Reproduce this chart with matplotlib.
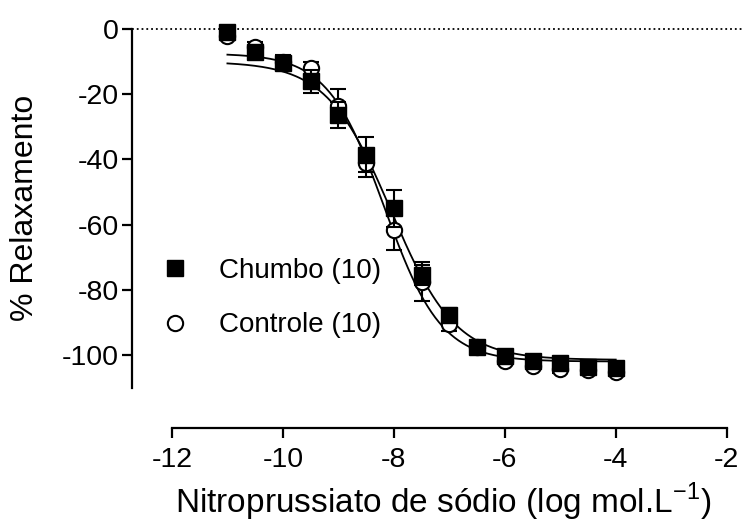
import numpy as np
import matplotlib
matplotlib.use('Agg')
import matplotlib.pyplot as plt

plt.rcParams['font.family'] = ['Liberation Sans', 'DejaVu Sans']
plt.rcParams['axes.unicode_minus'] = False
plt.rcParams['mathtext.fontset'] = 'custom'
plt.rcParams['mathtext.rm'] = 'Liberation Sans'

# log concentration of sodium nitroprusside
log_conc = [-11, -10.5, -10, -9.5, -9, -8.5, -8, -7.5, -7, -6.5, -6, -5.5, -5, -4.5, -4]

# % relaxation (mean and SEM)
chumbo = [-0.8, -7, -10.5, -16, -26.5, -38.5, -55, -75.5, -87.7, -97.4, -100.3, -101.8, -102.6, -103.8, -104.1]
chumbo_err = [1, 1.5, 2, 3.5, 4, 5.5, 5.6, 3, 2, 1.5, 1, 1, 1, 1, 1]
controle = [-2.1, -5.5, -10, -12, -23.5, -41, -61.7, -77.5, -90.5, -97.5, -101.8, -103.4, -104.4, -104.7, -105.2]
controle_err = [1, 1.5, 2, 2, 5, 4.3, 6, 6, 2, 1.5, 1, 1, 1, 1, 1]

# sigmoid fit parameters (top, bottom, logEC50, hill)
fit_chumbo = (-10, -101.5, -8.05, 0.75)
fit_controle = (-7.5, -102.0, -8.17, 0.85)


def sigmoid(x, top, bottom, logec50, hill):
    return bottom + (top - bottom) / (1 + 10 ** ((x - logec50) * hill))


fig = plt.figure(figsize=(7.42, 5.27), dpi=100)
ax = fig.add_axes([132 / 742, 1 - 428 / 527, (726.7 - 132) / 742, (428 - 29) / 527])

xfit = np.linspace(-11, -4, 300)
ax.plot(xfit, sigmoid(xfit, *fit_controle), color='black', lw=1.3, zorder=2)
ax.plot(xfit, sigmoid(xfit, *fit_chumbo), color='black', lw=1.3, zorder=2)

eb_ctl = ax.errorbar(log_conc, controle, yerr=controle_err, fmt='o', ms=11, mfc='white', mec='black',
                     mew=1.5, ecolor='black', elinewidth=1.5, capsize=5.5, capthick=1.5,
                     zorder=3, clip_on=False)
eb_chu = ax.errorbar(log_conc, chumbo, yerr=chumbo_err, fmt='s', ms=12, mfc='black', mec='black',
                     ecolor='black', elinewidth=1.5, capsize=5.5, capthick=1.5,
                     zorder=4, clip_on=False)

ax.axhline(0, xmin=0, xmax=1.03, color='black', ls=':', lw=1.3, clip_on=False, zorder=1)

ax.set_xlim(-12.72, -2)
ax.set_ylim(-122.4, 0)
ax.spines['top'].set_visible(False)
ax.spines['right'].set_visible(False)
ax.spines['left'].set_bounds(-110, 0)
ax.spines['bottom'].set_bounds(-12, -2)
ax.spines['left'].set_linewidth(1.6)
ax.spines['bottom'].set_linewidth(1.6)

ax.set_xticks([-12, -10, -8, -6, -4, -2])
ax.set_yticks([0, -20, -40, -60, -80, -100])
ax.tick_params(axis='both', direction='out', length=7.5, width=1.6, labelsize=20.5)
ax.tick_params(axis='y', pad=2)
ax.tick_params(axis='x', pad=6)

ax.set_xlabel('Nitroprussiato de sódio (log mol.L$^{\\mathregular{-1}}$)', fontsize=24)
ax.set_ylabel('% Relaxamento', fontsize=23)
ax.xaxis.set_label_coords(0.523, -0.133)
ax.yaxis.set_label_coords(-0.155, 0.551)

leg = ax.legend([eb_chu[0], eb_ctl[0]], ['Chumbo (10)', 'Controle (10)'], loc='upper left',
                bbox_to_anchor=(161 / 742, 1 - 258 / 527), bbox_transform=fig.transFigure,
                frameon=False, fontsize=20, handlelength=1.0, handletextpad=1.1,
                labelspacing=1.02, borderpad=0, borderaxespad=0)

fig.savefig('out.png', dpi=100)
